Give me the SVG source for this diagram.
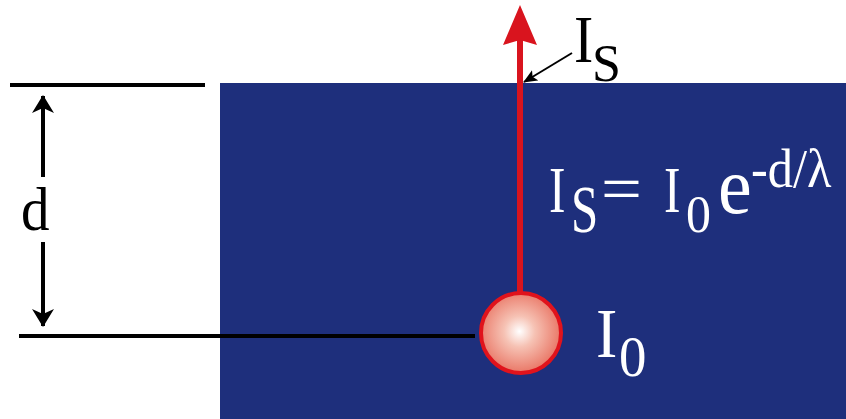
<svg xmlns="http://www.w3.org/2000/svg" width="846" height="419" viewBox="0 0 846 419">
<defs>
<radialGradient id="ball" cx="0.48" cy="0.48" r="0.55">
<stop offset="0" stop-color="#ffffff"/>
<stop offset="0.35" stop-color="#f6c2b4"/>
<stop offset="1" stop-color="#e8705f"/>
</radialGradient>
<marker id="dimHead" markerWidth="20" markerHeight="22" viewBox="0 0 20 22" refX="19" refY="11" orient="auto-start-reverse" markerUnits="userSpaceOnUse">
<path d="M20,11 L2,0 L7,11 L2,22 Z" fill="#000"/>
</marker>
<marker id="smallHead" markerWidth="14" markerHeight="12" viewBox="0 0 14 12" refX="13" refY="6" orient="auto" markerUnits="userSpaceOnUse">
<path d="M14,6 L0,0 L3,6 L0,12 Z" fill="#000"/>
</marker>
</defs>
<style>
.w{fill:#ffffff;}
.k{fill:#000000;}
</style>
<rect width="846" height="419" fill="#ffffff"/>
<g id="medium">
<rect x="220" y="83" width="626" height="336" fill="#1e2f7c"/>
</g>
<g id="connectors" stroke="#000" stroke-width="4" fill="none">
<line x1="10" y1="85" x2="205" y2="85"/>
<line x1="19" y1="336" x2="475" y2="336"/>
<line x1="43" y1="96" x2="43" y2="177" marker-start="url(#dimHead)"/>
<line x1="43" y1="242" x2="43" y2="326" marker-end="url(#dimHead)"/>
<line x1="520" y1="40" x2="520" y2="292" stroke="#d9141e" stroke-width="6"/>
<polygon points="520,5 537,45 520,40 503,45" fill="#d9141e" stroke="none"/>
<line x1="572" y1="53" x2="524" y2="82" stroke-width="2" marker-end="url(#smallHead)"/>
</g>
<g id="source">
<circle cx="521" cy="333" r="40" fill="url(#ball)" stroke="#e0131c" stroke-width="4"/>
</g>
<g id="labels">
<text class="k" transform="translate(21,230) scale(1.84,2)" font-size="31" style="font-family:'Liberation Serif',serif">d</text>
<text class="k" transform="translate(574,62) scale(1.7,2)" font-size="34" style="font-family:'Liberation Serif',serif">I</text>
<text class="k" transform="translate(592,81) scale(2,2)" font-size="26" style="font-family:'Liberation Serif',serif">S</text>
<text class="w" transform="translate(549,212) scale(1.5,2)" font-size="33" style="font-family:'Liberation Serif',serif">I</text>
<text class="w" transform="translate(571,232) scale(1.44,2)" font-size="34" style="font-family:'Liberation Serif',serif">S</text>
<text class="w" transform="translate(601,211) scale(2.2,2)" font-size="33" style="font-family:'Liberation Serif',serif">=</text>
<text class="w" transform="translate(664,212) scale(1.5,2)" font-size="33" style="font-family:'Liberation Serif',serif">I</text>
<text class="w" transform="translate(686,232) scale(1.92,2)" font-size="26" style="font-family:'Liberation Serif',serif">0</text>
<text class="w" transform="translate(718,213) scale(1.9,2)" font-size="40" style="font-family:'Liberation Serif',serif">e</text>
<text class="w" transform="translate(751,187) scale(1.75,2)" font-size="27" textLength="46" lengthAdjust="spacingAndGlyphs" style="font-family:'Liberation Serif',serif">-d/λ</text>
<text class="w" transform="translate(596,357) scale(1.83,2)" font-size="35" style="font-family:'Liberation Serif',serif">I</text>
<text class="w" transform="translate(619,376) scale(1.96,2)" font-size="28" style="font-family:'Liberation Serif',serif">0</text>
</g>
</svg>
